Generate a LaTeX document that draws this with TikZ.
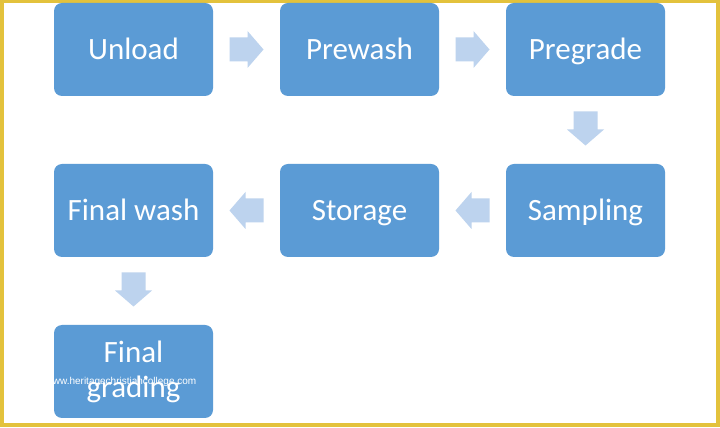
\documentclass[tikz,border=0pt]{standalone}
\usepackage{fontspec}
\setmainfont{Carlito}
\newfontfamily\wmfont{Liberation Sans}
\usetikzlibrary{calc}
\definecolor{boxblue}{HTML}{5B9BD5}
\definecolor{arrowblue}{HTML}{BDD3EE}
\definecolor{framegold}{HTML}{E3C23C}
\tikzset{
  stepbox/.style={draw=none, fill=boxblue, rounded corners=8pt, minimum width=159pt, minimum height=93pt, inner sep=0pt,
    text=white, font=\fontsize{31}{35}\selectfont, align=center},
  oneline/.style={text height=25pt, text depth=5pt}
}
\newcommand{\blkarrow}[2]{%
  \fill[fill=arrowblue, shift={(#1)}, rotate=#2] (-17,-12) -- (1,-12) -- (1,-18.5) -- (17,0) -- (1,18.5) -- (1,12) -- (-17,12) -- cycle;}
\begin{document}
\begin{tikzpicture}[x=1pt,y=1pt]
  \useasboundingbox (0,0) rectangle (720,428);
  \fill[white] (0,0) rectangle (720,428);
  \draw[framegold, line width=4pt] (2,2.5) rectangle (718,426.5);

  \node[stepbox, oneline] (unload)   at (133.5,378.5) {Unload};
  \node[stepbox, oneline] (prewash)  at (359.5,378.5) {Prewash};
  \node[stepbox, oneline] (pregrade) at (585.5,378.5) {Pregrade};
  \node[stepbox, oneline] (sampling) at (585.5,217.5) {Sampling};
  \node[stepbox, oneline] (storage)  at (359.5,217.5) {Storage};
  \node[stepbox, oneline] (finalwash) at (133.5,217.5) {Final wash};
  \node[stepbox] (finalgrading) at (133.5,56.5) {Final\\grading};

  \coordinate (a1) at ($(unload.east)!0.5!(prewash.west)$);
  \coordinate (a2) at ($(prewash.east)!0.5!(pregrade.west)$);
  \coordinate (a3) at ($(pregrade.south)!0.5!(sampling.north)+(0,1.5)$);
  \coordinate (a4) at ($(sampling.west)!0.5!(storage.east)$);
  \coordinate (a5) at ($(storage.west)!0.5!(finalwash.east)$);
  \coordinate (a6) at ($(finalwash.south)!0.5!(finalgrading.north)+(0,1.5)$);
  \blkarrow{a1}{0}
  \blkarrow{a2}{0}
  \blkarrow{a3}{-90}
  \blkarrow{a4}{180}
  \blkarrow{a5}{180}
  \blkarrow{a6}{-90}

  \node[text=white, font=\wmfont\fontsize{10}{12}\selectfont, inner sep=0pt] (wm) at (121,46) {www.heritagechristiancollege.com};
\end{tikzpicture}
\end{document}
